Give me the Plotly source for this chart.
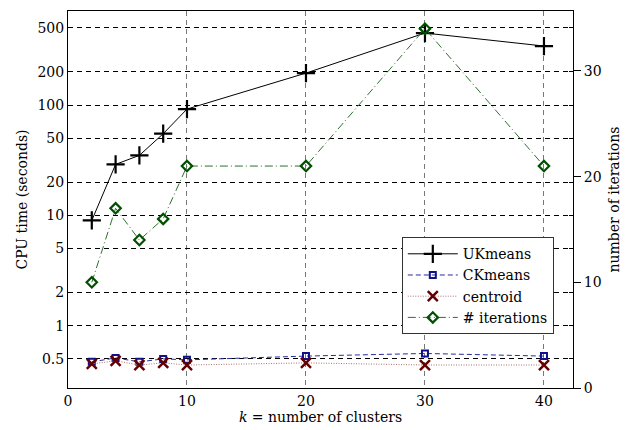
import plotly.graph_objects as go

k = [2, 4, 6, 8, 10, 20, 30, 40]
ukmeans = [9.0, 29, 35, 55, 92, 195, 450, 343]
ckmeans = [0.47, 0.51, 0.47, 0.50, 0.49, 0.53, 0.56, 0.53]
centroid = [0.45, 0.48, 0.44, 0.46, 0.44, 0.46, 0.44, 0.44]
iterations = [10, 17, 14, 16, 21, 21, 34, 21]

left_ticks = [0.5, 1, 2, 5, 10, 20, 50, 100, 200, 500]
left_labels = ["0.5", "1", "2", "5", "10", "20", "50", "100", "200", "500"]
right_ticks = [0, 10, 20, 30]
x_ticks = [0, 10, 20, 30, 40]

FONT = "DejaVu Serif, Liberation Serif, serif"

fig = go.Figure()
fig.add_trace(go.Scatter(
    x=k, y=ukmeans, name="UKmeans", mode="lines+markers",
    line=dict(color="black", width=1),
    marker=dict(symbol="cross-thin", size=13, line=dict(color="black", width=2.2)),
    yaxis="y"))
fig.add_trace(go.Scatter(
    x=k, y=ckmeans, name="CKmeans", mode="lines+markers",
    line=dict(color="#2a2aa0", width=1, dash="5px,3px"),
    marker=dict(symbol="square-open", size=6, color="#10108a", line=dict(color="#10108a", width=2)),
    yaxis="y"))
fig.add_trace(go.Scatter(
    x=k, y=centroid, name="centroid", mode="lines+markers",
    line=dict(color="#b07070", width=1, dash="1px,1.5px"),
    marker=dict(symbol="x-thin", size=10, color="#660000", line=dict(color="#660000", width=2.5)),
    yaxis="y"))
fig.add_trace(go.Scatter(
    x=k, y=iterations, name="# iterations", mode="lines+markers",
    line=dict(color="#2f6f2f", width=1, dash="8px,3px,1px,3px"),
    marker=dict(symbol="diamond-open", size=8, color="#005000", line=dict(color="#005000", width=2.2)),
    yaxis="y2"))

fig.update_layout(
    width=644, height=430,
    margin=dict(l=68, r=71, t=11, b=42),
    paper_bgcolor="white", plot_bgcolor="white",
    font=dict(family=FONT, size=14, color="black"),
    showlegend=True,
    legend=dict(x=0.661, y=0.40, xanchor="left", yanchor="top",
                bgcolor="white", bordercolor="#333333", borderwidth=1,
                font=dict(family=FONT, size=14), itemwidth=50,
                tracegroupgap=0),
    xaxis=dict(range=[0, 42.44], tickvals=x_ticks, ticktext=[str(v) for v in x_ticks],
               showgrid=True, gridcolor="#777777", griddash="5px,4px", gridwidth=1,
               showline=True, linecolor="black", linewidth=1, mirror=True,
               ticks="", zeroline=False, automargin=False,
               title=dict(text="<i>k</i> = number of clusters", standoff=2,
                          font=dict(family=FONT, size=14))),
    yaxis=dict(type="log", range=[-0.565, 2.853], tickvals=left_ticks, ticktext=left_labels,
               showgrid=True, gridcolor="black", griddash="5px,4px", gridwidth=1,
               showline=True, linecolor="black", linewidth=1, mirror="ticks",
               ticks="inside", ticklen=4, tickcolor="black", zeroline=False, automargin=False,
               title=dict(text="CPU time (seconds)", standoff=6,
                          font=dict(family=FONT, size=14))),
    yaxis2=dict(overlaying="y", side="right", range=[0, 35.67], tickvals=right_ticks,
                showgrid=False, zeroline=False, showline=True, linecolor="black", linewidth=1,
                ticks="outside", ticklen=7, tickcolor="black", automargin=False,
                title=dict(text="number of iterations", standoff=8,
                           font=dict(family=FONT, size=14))),
)

fig.write_html("out.html", config={"displayModeBar": False},
               post_script="document.body.style.margin='0px';")
